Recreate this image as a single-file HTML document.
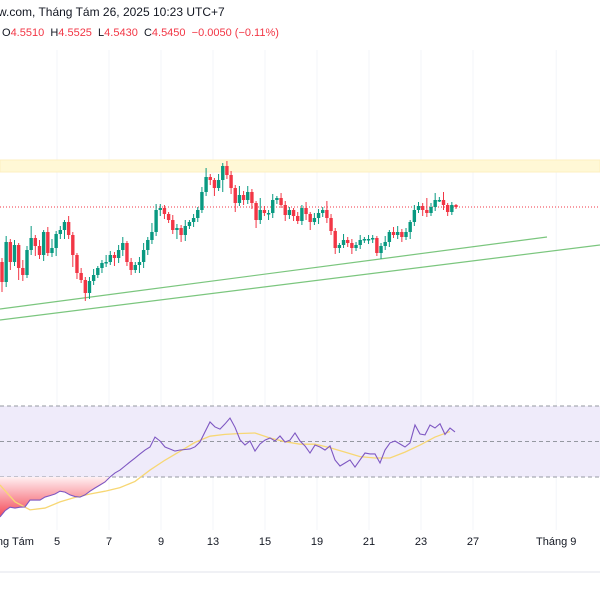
<!DOCTYPE html>
<html><head><meta charset="utf-8">
<style>
html,body{margin:0;padding:0;background:#fff;width:600px;height:600px;overflow:hidden;font-family:"Liberation Sans","Noto Sans CJK SC",sans-serif;}
.t{position:absolute;white-space:nowrap}
</style></head><body>
<div class="t" style="left:-2px;top:5px;font-size:12px;color:#131722">w.com, Tháng Tám 26, 2025 10:23 UTC+7</div>
<div class="t" style="left:2px;top:27px;font-size:11px;color:#131722">O<span style="color:#f23645">4.5510</span>&nbsp; H<span style="color:#f23645">4.5525</span>&nbsp; L<span style="color:#f23645">4.5430</span>&nbsp; C<span style="color:#f23645">4.5450</span>&nbsp; <span style="color:#f23645">−0.0050 (−0.11%)</span></div>
<svg id="c" width="600" height="600" style="position:absolute;left:0;top:0"></svg>
<script>
const closes=[4.470,4.510,4.490,4.507,4.484,4.477,4.502,4.514,4.506,4.497,4.520,4.499,4.504,4.518,4.522,4.530,4.517,4.497,4.479,4.472,4.459,4.471,4.477,4.484,4.489,4.490,4.497,4.494,4.502,4.509,4.490,4.482,4.487,4.490,4.502,4.512,4.520,4.542,4.544,4.538,4.532,4.522,4.524,4.517,4.526,4.530,4.534,4.542,4.560,4.575,4.572,4.564,4.572,4.586,4.577,4.564,4.549,4.557,4.552,4.560,4.549,4.532,4.542,4.539,4.539,4.552,4.554,4.547,4.537,4.542,4.536,4.531,4.544,4.538,4.530,4.534,4.539,4.542,4.534,4.521,4.504,4.507,4.512,4.509,4.504,4.507,4.512,4.513,4.513,4.514,4.499,4.506,4.510,4.520,4.517,4.520,4.515,4.520,4.530,4.542,4.546,4.542,4.539,4.545,4.552,4.552,4.547,4.540,4.547,4.545];
const wickUp=[4,6,3,5,2,8,4,12,3,6,2,5,9,3,4,2,6,3,2,5,3,4,6,2,3,7,4,3,5,6,2,4,3,5,7,3,9,6,4,3,2,5,4,3,6,2,4,3,5,9,3,2,6,3,5,4,3,9,4,6,3,2,12,4,3,6,2,5,4,3,2,4,3,6,2,5,4,3,9,4,3,2,6,3,4,3,5,2,4,3,2,3,6,2,5,6,3,4,2,5,4,3,12,4,7,3,8,2,3,1];
const wickDn=[10,5,8,4,12,6,3,5,10,4,6,3,4,8,5,9,4,12,6,3,8,6,4,3,5,4,3,8,5,6,4,5,3,8,6,5,4,4,6,5,3,4,9,7,6,3,5,4,3,4,5,8,3,12,4,6,9,3,5,4,6,8,4,3,7,5,4,3,6,4,5,3,4,6,8,3,6,4,5,4,6,5,3,4,6,3,4,3,5,4,3,6,4,5,3,4,5,3,7,4,3,6,4,3,4,2,5,4,3,2];
const firstOpen=4.490;
const rsi=[7.5,11,13,12.5,13,13.1,17,17,17,18.7,19.5,20.4,22,21.5,19.9,19,18.7,19.9,22,23.8,25.5,27.2,30,32.3,33.9,36.2,38.5,40.7,43,45.2,46.9,52.5,50.3,46.9,45.8,44.6,45.2,45.5,45.8,47,49.7,55.4,61,58.2,57,59.9,63.2,58,51,48,50.3,44.6,48.6,50.8,52,50.3,53.1,49.7,50.8,54.8,50.3,47.5,43.5,48,46.9,45.2,47.5,39.6,36.2,37.9,39.6,35.6,39.6,43.5,43,43,37.9,45.2,49.2,50.3,48.6,46.9,49.2,59.3,54.2,53.7,59.3,57.6,60,54,57.6,55.4];
const rsiMA=[25.5,16,11.5,12.5,16,18.5,20.4,22,24,27.5,33.9,39.5,44.5,49.5,53,54,54.5,54.8,52,49.9,48.5,48.5,46.5,44,41.5,40.7,40.7,44,48,52.5,55.6];
const dateLabels=["ng Tám","5","7","9","13","15","19","21","23","27","Tháng 9"];
const dateIdx=[-1.6,0,2,4,6,8,10,12,14,16,19.2];
</script>
<script>
const svg=document.getElementById('c');const NS='http://www.w3.org/2000/svg';
function mk(t,a,p){const e=document.createElementNS(NS,t);for(const k in a)e.setAttribute(k,a[k]);(p||svg).appendChild(e);return e;}
const py=p=>207-(p-4.545)*1000;
const cx=i=>2+i*(454/(closes.length-1));
const ry=r=>441.5-(r-50)*1.775;
const rx=i=>i*5;
const mx=i=>i*15;
const dx=d=>57+d*26;
const g=mk('g',{});
dateIdx.forEach(d=>{const x=dx(d);if(d>-1)mk('line',{x1:x,x2:x,y1:50,y2:530,stroke:'#f3f5f9','stroke-width':1},g);});
const z=mk('rect',{x:0,y:160,width:600,height:12,fill:'#fff8d6',stroke:'#fdefc0','stroke-width':1});

const pl=mk('line',{x1:0,x2:600,y1:207,y2:207,stroke:'#f23645','stroke-dasharray':'1 2','stroke-width':1});

const t1=mk('line',{x1:0,y1:309,x2:547,y2:237,stroke:'#7bc67e','stroke-width':1.2});

const t2=mk('line',{x1:0,y1:320,x2:600,y2:245,stroke:'#7bc67e','stroke-width':1.2});

let prev=firstOpen;
closes.forEach((c,i)=>{const o=prev;prev=c;const up=c>=o;const col=up?'#089981':'#f23645';
const hi=Math.max(o,c)+wickUp[i]/1000,lo=Math.min(o,c)-wickDn[i]/1000;const x=cx(i);
const gg=mk('g',{});
mk('line',{x1:x,x2:x,y1:py(hi),y2:py(lo),stroke:col,'stroke-width':1},gg);
const top=py(Math.max(o,c));mk('rect',{x:x-1.7,y:top,width:3.4,height:Math.max(1.5,py(Math.min(o,c))-top),fill:col},gg);});
mk('line',{x1:0,x2:600,y1:572,y2:572,stroke:'#e0e3eb'});
const band=mk('rect',{x:0,y:ry(70),width:600,height:ry(30)-ry(70),fill:'#efebfa'});

[70,50,30].forEach(v=>mk('line',{x1:0,x2:600,y1:ry(v),y2:ry(v),stroke:'#9598a1','stroke-dasharray':'4 3','stroke-width':1}));
const defs=mk('defs',{});const lg=mk('linearGradient',{id:'gr',gradientUnits:'userSpaceOnUse'},defs);
lg.setAttribute('x1',0);lg.setAttribute('y1',ry(30));lg.setAttribute('x2',0);lg.setAttribute('y2',ry(5));
mk('stop',{offset:0,'stop-color':'#fff0f2'},lg);mk('stop',{offset:1,'stop-color':'#f23645'},lg);
const cp=mk('clipPath',{id:'cp'},defs);mk('rect',{x:0,y:ry(30),width:600,height:100},cp);
let d='M0 '+ry(30);rsi.forEach((v,i)=>d+=' L'+rx(i)+' '+ry(v));d+=' L'+rx(rsi.length-1)+' '+ry(30)+'Z';
const f=mk('path',{d:d,fill:'url(#gr)','clip-path':'url(#cp)'});
const ma=mk('polyline',{points:rsiMA.map((v,i)=>mx(i)+','+ry(v)).join(' '),fill:'none',stroke:'#f7d774','stroke-width':1.3});

const rl=mk('polyline',{points:rsi.map((v,i)=>rx(i)+','+ry(v)).join(' '),fill:'none',stroke:'#7e57c2','stroke-width':1.1});

dateLabels.forEach((l,k)=>{const t=mk('text',{x:dx(dateIdx[k]),y:545,'text-anchor':'middle','font-size':11,'font-family':'Liberation Sans, sans-serif',fill:'#131722'});
t.textContent=l;});
</script>
</body></html>
